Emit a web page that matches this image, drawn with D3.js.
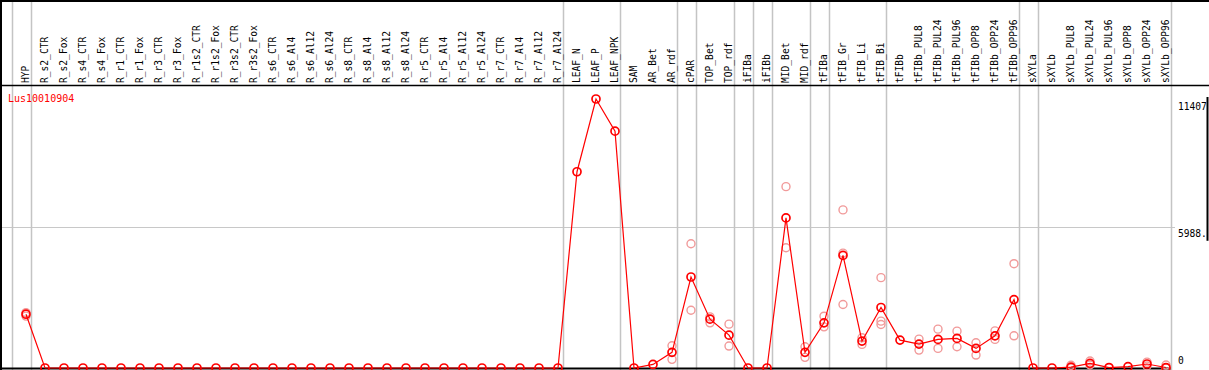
<!DOCTYPE html>
<html>
<head>
<meta charset="utf-8">
<script src="https://cdn.jsdelivr.net/npm/d3@7.9.0/dist/d3.min.js"></script>
<style>
  body { margin: 0; background: #fff; }
  svg { display: block; }
</style>
</head>
<body>
<div id="chart"></div>
<script>
const gene = 'Lus10010904';

const categories = [
  'HYP', 'R_s2_CTR', 'R_s2_Fox', 'R_s4_CTR', 'R_s4_Fox', 'R_r1_CTR', 'R_r1_Fox',
  'R_r3_CTR', 'R_r3_Fox', 'R_r1s2_CTR', 'R_r1s2_Fox', 'R_r3s2_CTR', 'R_r3s2_Fox',
  'R_s6_CTR', 'R_s6_Al4', 'R_s6_Al12', 'R_s6_Al24', 'R_s8_CTR', 'R_s8_Al4',
  'R_s8_Al12', 'R_s8_Al24', 'R_r5_CTR', 'R_r5_Al4', 'R_r5_Al12', 'R_r5_Al24',
  'R_r7_CTR', 'R_r7_Al4', 'R_r7_Al12', 'R_r7_Al24', 'LEAF_N', 'LEAF_P', 'LEAF_NPK',
  'SAM', 'AR_Bet', 'AR_rdf', 'cPAR', 'TOP_Bet', 'TOP_rdf', 'iFIBa', 'iFIBb',
  'MID_Bet', 'MID_rdf', 'tFIBa', 'tFIB_Gr', 'tFIB_Li', 'tFIB_Bi', 'tFIBb',
  'tFIBb_PUL8', 'tFIBb_PUL24', 'tFIBb_PUL96', 'tFIBb_OPP8', 'tFIBb_OPP24', 'tFIBb_OPP96',
  'sXYLa', 'sXYLb', 'sXYLb_PUL8', 'sXYLb_PUL24', 'sXYLb_PUL96', 'sXYLb_OPP8',
  'sXYLb_OPP24', 'sXYLb_OPP96'
];

// first sample of each tissue group (gray separators)
const groupStarts = ['HYP', 'R_s2_CTR', 'LEAF_N', 'SAM', 'cPAR', 'TOP_Bet', 'iFIBa',
  'iFIBb', 'MID_Bet', 'tFIBa', 'tFIB_Gr', 'tFIBb', 'sXYLa', 'sXYLb'];

// mean expression per sample
const means = [
  2281, 0, 0, 0, 0, 0, 0, 0, 0, 0, 0, 0, 0, 0, 0, 0, 0, 0, 0, 0, 0, 0, 0, 0, 0, 0, 0, 0, 0,
  8323, 11407, 10043,
  0, 150, 663, 3858, 2070, 1394, 0, 0,
  6366, 663, 1914, 4774, 1141, 2565, 1183,
  1014, 1212, 1254, 832, 1365, 2902,
  0, 0, 40, 198, 20, 55, 169, 20
];

// individual replicates (only the ones that show apart from the mean)
const replicates = {
  'HYP': [2350, 2200],
  'AR_rdf': [942, 367],
  'cPAR': [5268, 2450],
  'TOP_Bet': [2167, 1914],
  'TOP_rdf': [1859, 930],
  'MID_Bet': [7690, 5099],
  'MID_rdf': [900, 452],
  'tFIBa': [2197, 1745],
  'tFIB_Gr': [6705, 4872, 2691],
  'tFIB_Li': [1280, 1001],
  'tFIB_Bi': [3832, 1986, 1846],
  'tFIBb_PUL8': [1225, 760],
  'tFIBb_PUL24': [1648, 832],
  'tFIBb_PUL96': [1563, 900],
  'tFIBb_OPP8': [1069, 549],
  'tFIBb_OPP24': [1576, 1212],
  'tFIBb_OPP96': [4423, 1365],
  'sXYLb_PUL8': [114, 0],
  'sXYLb_PUL24': [296, 127],
  'sXYLb_OPP24': [250, 85],
  'sXYLb_OPP96': [127, 0]
};

const yTicks = [
  { value: 11407, text: '11407', dy: 11 },
  { value: 5988, text: '5988.', dy: 10 },
  { value: 0, text: '0', dy: -4 }
];

const width = 1209;
const height = 370;
const headerBottom = 85;
const plotRight = 1171;
const font = 'DejaVu Sans Mono, monospace';

const svg = d3.select('#chart')
  .append('svg')
  .attr('width', width)
  .attr('height', height);

const xScale = d3.scalePoint()
  .domain(categories)
  .range([26, 1166]);

const yScale = d3.scaleLinear()
  .domain([0, 11407])
  .range([368, 99]);

const rows = categories.map((c, i) => ({ cat: c, value: means[i] }));
const reps = Object.entries(replicates)
  .flatMap(([cat, vals]) => vals.map(v => ({ cat, value: v })));

// horizontal gridline
svg.append('line')
  .attr('x1', 1).attr('x2', plotRight + 4)
  .attr('y1', Math.round(yScale(5988)) + 0.5)
  .attr('y2', Math.round(yScale(5988)) + 0.5)
  .attr('stroke', '#c8c8c8');

// group separators
const sepX = groupStarts.map(d => Math.round(xScale(d) - 14.5) + 0.5);
sepX.push(Math.round(xScale(categories[categories.length - 1]) + 4.5) + 0.5);

svg.append('g')
  .selectAll('line')
  .data(sepX)
  .join('line')
  .attr('x1', d => d)
  .attr('x2', d => d)
  .attr('y1', 0)
  .attr('y2', height)
  .attr('stroke', '#c4c4c4')
  .attr('stroke-width', 1.5);

// frame
svg.append('line').attr('x1', 0).attr('x2', width).attr('y1', 1).attr('y2', 1)
  .attr('stroke', '#000').attr('stroke-width', 2);
svg.append('line').attr('x1', 0).attr('x2', width)
  .attr('y1', headerBottom + 0.5).attr('y2', headerBottom + 0.5)
  .attr('stroke', '#000').attr('stroke-width', 1.5);
svg.append('line').attr('x1', 1).attr('x2', 1).attr('y1', 0).attr('y2', height)
  .attr('stroke', '#000').attr('stroke-width', 2);
svg.append('line').attr('x1', 0).attr('x2', plotRight)
  .attr('y1', yScale(0) + 0.5).attr('y2', yScale(0) + 0.5)
  .attr('stroke', '#000').attr('stroke-width', 2);
svg.append('line').attr('x1', width - 1.5).attr('x2', width - 1.5)
  .attr('y1', yScale(11407) - 2).attr('y2', yScale(5988) + 14)
  .attr('stroke', '#000').attr('stroke-width', 2);

// sample labels
svg.append('g')
  .selectAll('text')
  .data(categories)
  .join('text')
  .attr('transform', d => `translate(${xScale(d)},${headerBottom - 2}) rotate(-90)`)
  .attr('dy', '0.35em')
  .attr('font-family', font)
  .attr('font-size', 9.6)
  .attr('fill', '#000')
  .text(d => d);

// y labels
svg.append('g')
  .selectAll('text')
  .data(yTicks)
  .join('text')
  .attr('x', 1178)
  .attr('y', d => yScale(d.value) + d.dy)
  .attr('font-family', font)
  .attr('font-size', 9.6)
  .attr('fill', '#000')
  .text(d => d.text);

svg.append('text')
  .attr('x', 8)
  .attr('y', 102)
  .attr('font-family', font)
  .attr('font-size', 10)
  .attr('fill', 'red')
  .text(gene);

// replicates
svg.append('g')
  .selectAll('circle')
  .data(reps)
  .join('circle')
  .attr('cx', d => xScale(d.cat))
  .attr('cy', d => yScale(d.value))
  .attr('r', 4)
  .attr('fill', 'none')
  .attr('stroke', '#f19a9a')
  .attr('stroke-width', 1.4);

// mean line
const line = d3.line()
  .x(d => xScale(d.cat))
  .y(d => yScale(d.value));

svg.append('path')
  .datum(rows)
  .attr('d', line)
  .attr('fill', 'none')
  .attr('stroke', 'red')
  .attr('stroke-width', 1.2);

svg.append('g')
  .selectAll('circle')
  .data(rows)
  .join('circle')
  .attr('cx', d => xScale(d.cat))
  .attr('cy', d => yScale(d.value))
  .attr('r', 4)
  .attr('fill', 'none')
  .attr('stroke', 'red')
  .attr('stroke-width', 1.7);
</script>
</body>
</html>
